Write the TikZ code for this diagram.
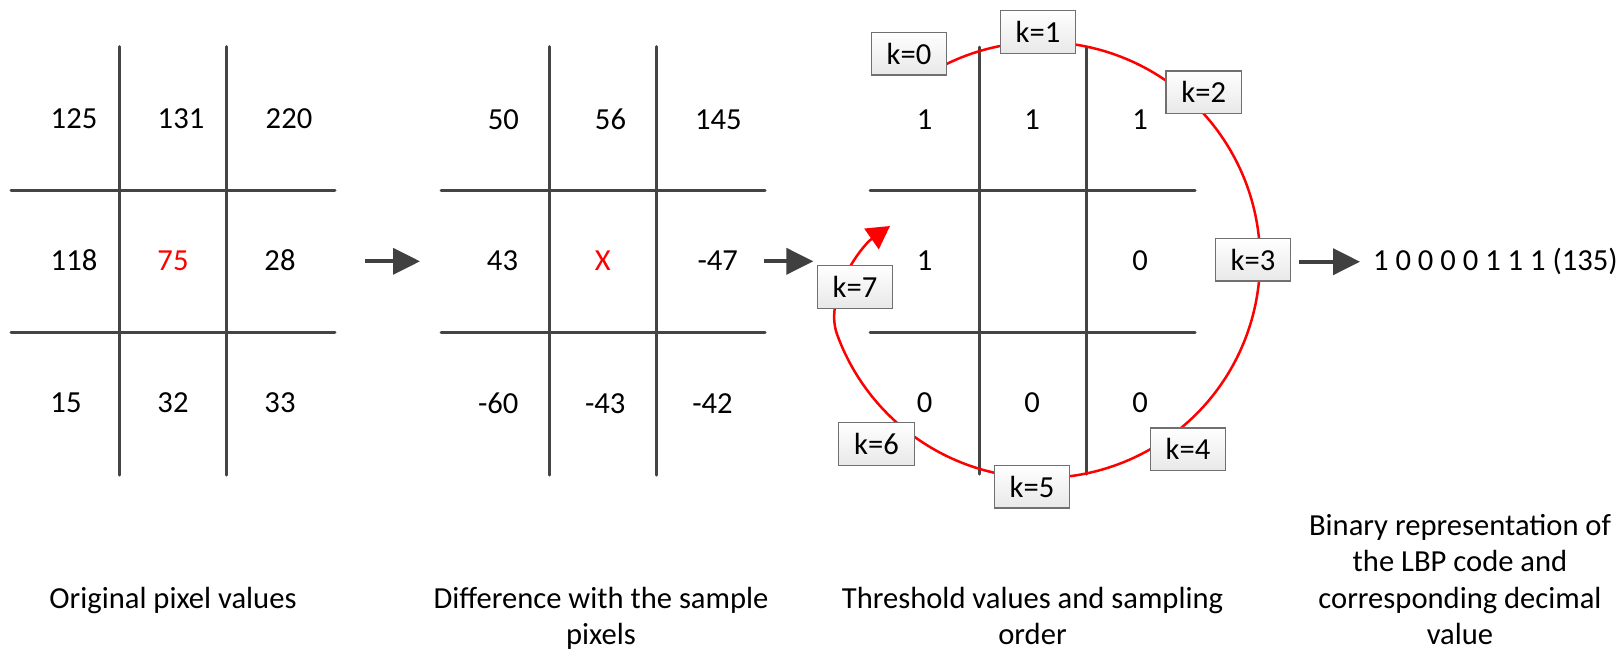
\documentclass[tikz,border=0pt]{standalone}
\usepackage{fontspec}
\setmainfont{Carlito}
\usetikzlibrary{arrows.meta}
\definecolor{gridgray}{HTML}{444444}
\definecolor{arrgray}{HTML}{404040}
\definecolor{boxborder}{HTML}{707070}
\definecolor{lbpred}{HTML}{FF0000}
\begin{document}
\begin{tikzpicture}[x=0.5pt,y=-0.5pt,
  every node/.style={font=\fontsize{15.3}{18.15}\selectfont, inner sep=0pt},
  gridline/.style={draw=gridgray, line width=1.5pt, line cap=round},
  num/.style={anchor=center},
  rednum/.style={anchor=center, text=lbpred},
  kbox/.style={draw=boxborder, line width=0.6pt, top color=white, bottom color=black!9,
    minimum width=37.8pt, minimum height=21.3pt},
  flow/.style={draw=arrgray, line width=2pt, -{Triangle[length=13.5pt,width=13pt]}},
  order/.style={draw=lbpred, line width=1.25pt, -{Triangle[length=11.3pt,width=12.4pt]}},
  caption/.style={align=center, anchor=base}
]
\fill[white] (0,0) rectangle (1622,650);
\useasboundingbox (0,0) rectangle (1622,650);

% ---- grid 1: original pixel values
\draw[gridline] (119.3,46.7) -- (119.3,475);
\draw[gridline] (226.7,46.7) -- (226.7,475);
\draw[gridline] (11,190.3) -- (335,190.3);
\draw[gridline] (11,332.3) -- (335,332.3);
\node[num] (g1a) at (74,118.5) {125};
\node[num] (g1b) at (181,118.5) {131};
\node[num] (g1c) at (289,118.5) {220};
\node[num] (g1d) at (74,260.3) {118};
\node[rednum] (g1e) at (173,260.3) {75};
\node[num] (g1f) at (280,260.3) {28};
\node[num] (g1g) at (66,403) {15};
\node[num] (g1h) at (173,403) {32};
\node[num] (g1i) at (280,403) {33};

% ---- grid 2: differences
\draw[gridline] (549.3,46.7) -- (549.3,475);
\draw[gridline] (656.7,46.7) -- (656.7,475);
\draw[gridline] (441,190.3) -- (765,190.3);
\draw[gridline] (441,332.3) -- (765,332.3);
\node[num] (g2a) at (503.3,119.3) {50};
\node[num] (g2b) at (610.5,119.3) {56};
\node[num] (g2c) at (718.3,119.3) {145};
\node[num] (g2d) at (502.5,260.7) {43};
\node[rednum] (g2e) at (602.8,260.7) {X};
\node[num] (g2f) at (717.8,260.7) {-47};
\node[num] (g2g) at (498.3,403.3) {-60};
\node[num] (g2h) at (605.2,403.3) {-43};
\node[num] (g2i) at (712.5,403.3) {-42};

% ---- grid 3: thresholds
\draw[gridline] (979,47) -- (979,474);
\draw[gridline] (1086,47) -- (1086,474);
\draw[gridline] (870,190.3) -- (1195,190.3);
\draw[gridline] (870,332.3) -- (1195,332.3);
\node[num] (g3a) at (924.5,120) {1};
\node[num] (g3b) at (1032,120) {1};
\node[num] (g3c) at (1140,120) {1};
\node[num] (g3d) at (924.5,261) {1};
\node[num] (g3f) at (1140,261) {0};
\node[num] (g3g) at (924.5,402.7) {0};
\node[num] (g3h) at (1032,402.7) {0};
\node[num] (g3i) at (1140,402.7) {0};

% ---- sampling order circle
\coordinate (oc) at (1042,260);
\draw[order] ([shift={(-122:218)}]oc) arc[start angle=-122, end angle=160, radius=218]
  .. controls (823.3,297) and (861.4,246) .. (890,226);

\node[kbox] (k0) at (909,53.7) {k=0};
\node[kbox] (k1) at (1038,32) {k=1};
\node[kbox] (k2) at (1203.7,92.3) {k=2};
\node[kbox] (k3) at (1253,259.7) {k=3};
\node[kbox] (k4) at (1188,449.3) {k=4};
\node[kbox] (k5) at (1032,486.7) {k=5};
\node[kbox] (k6) at (876.5,444) {k=6};
\node[kbox] (k7) at (855,287) {k=7};

% ---- flow arrows
\coordinate (a1s) at (365,261.3);
\coordinate (a1e) at (420,261.3);
\coordinate (a2s) at (764,261.3);
\coordinate (a2e) at (813.3,261.3);
\coordinate (a3s) at (1299,261.7);
\coordinate (a3e) at (1360,261.7);
\draw[flow] (a1s) -- (a1e);
\draw[flow] (a2s) -- (a2e);
\draw[flow] (a3s) -- (a3e);

\node[anchor=base west] (bin) at (1372.7,270.7) {1 0 0 0 0 1 1 1 (135)};

% ---- captions (base anchor = baseline of the last line)
\node[caption] (c1) at (173,608.3) {Original pixel values};
\node[caption] (c2) at (601,644.4) {Difference with the sample\\pixels};
\node[caption] (c3) at (1032.5,644.4) {Threshold values and sampling\\order};
\node[caption] (c4) at (1460,644.4) {Binary representation of\\the LBP code and\\corresponding decimal\\value};
\end{tikzpicture}
\end{document}
